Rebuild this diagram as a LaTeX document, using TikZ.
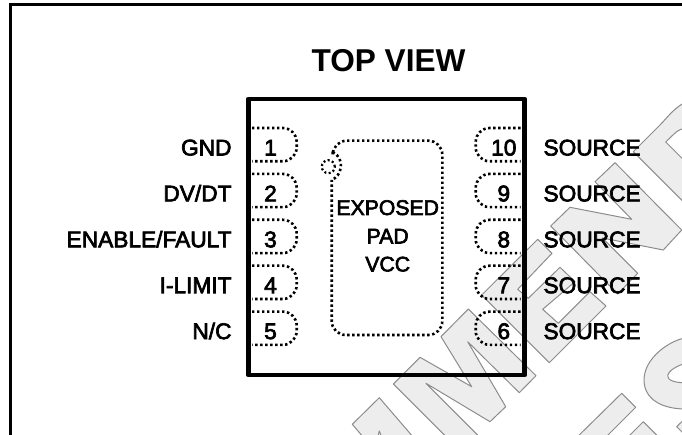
\documentclass[tikz,border=0pt]{standalone}
\usepackage{fontspec}
\setmainfont{Liberation Sans}
\newfontfamily\pinfont[FakeBold=3]{Liberation Sans}
\tikzset{
  wmark/.style={draw=black!45,fill=black!7,line width=1pt,line join=round,even odd rule},
  pinpad/.style={line width=2.6pt,dash pattern=on 2.4pt off 2.6pt,rounded corners=14pt},
  pinlabel/.style={inner sep=0,font=\pinfont\fontsize{22.7}{25}\selectfont},
  padlabel/.style={inner sep=0,anchor=base,font=\pinfont\fontsize{21.2}{25}\selectfont},
}
\begin{document}
\begin{tikzpicture}[x=1pt,y=-1pt]
   \useasboundingbox (0,0) rectangle (682,435);
   % watermark letters
   \begin{scope}
   \clip (0,0) rectangle (682,435);
   \filldraw[wmark] (379.3,397.7) -- (352.3,424.3) -- (370,445) -- (376,445) -- (379.3,431) -- (385,445) -- (420,445) -- cycle;
   \filldraw[wmark] (393.3,384) -- (420,357.3) -- (471.7,386.7) -- (441,336.7) -- (468.3,309) -- (536,375.7) -- (519.3,392.7) -- (467.7,341.7) -- (505.7,406.7) -- (490,421.7) -- (426,383.3) -- (487.7,445) -- (454.3,445) -- cycle;
   \filldraw[wmark] (537.7,239.3) -- (552,253.3) -- (517.7,289.3) -- (528.3,298.3) -- (560,267.3) -- (575,281.7) -- (542.7,309.3) -- (558.3,323.3) -- (590,291.7) -- (606,306) -- (549.3,362.7) -- (481.7,295) -- cycle;
   \filldraw[wmark] (550.7,226) -- (570,207.3) -- (631.7,219.3) -- (595,181.7) -- (615,162.7) -- (681.7,230) -- (663.3,250) -- (602.4,238) -- (637.7,273.3) -- (617.7,294) -- cycle;
   \filldraw[wmark] (633.3,151.7) -- (660,125) .. controls (668,117) and (675,106) .. (690,100) -- (700,100) -- (700,218.4) -- cycle
      (665.7,142) -- (674,134) .. controls (678,130) and (682,128) .. (690,128) -- (700,128) -- (700,176.3) -- cycle;
   \filldraw[wmark] (690,337) .. controls (670,339) and (644,358) .. (644,380) .. controls (644,398) and (660,410) .. (690,409) -- (700,409) -- (700,337) -- cycle
      (690,362) .. controls (680,364) and (666,371) .. (668,377) .. controls (669,382) and (680,383) .. (690,383) -- cycle;
   \filldraw[wmark] (621.7,393.3) -- (635.7,407.3) -- (598,445) -- (569,445) -- cycle;
   \filldraw[wmark] (643.3,421.7) -- (666.7,445) -- (620,445) -- cycle;
   \filldraw[wmark] (700,403.7) -- (676.7,426.7) -- (700,450) -- cycle;
   \end{scope}
   % frame
   \draw[line width=2.8pt] (10.7,435) -- (10.7,4.3) -- (682,4.3);
   \node[anchor=base,inner sep=0,font=\bfseries\fontsize{31.6}{33}\selectfont] (title) at (388.5,71.5) {TOP VIEW};
   % package
   \draw[line width=4.8pt,line join=round] (248.3,99) rectangle (524.7,375);
   % left pins
   \foreach \n/\lab in {1/GND,2/DV\slash DT,3/ENABLE\slash FAULT,4/I-LIMIT,5/N\slash C}{
     \pgfmathsetmacro\ty{128+(\n-1)*45.9}
     \draw[pinpad] (252,\ty) -- (296.7,\ty) -- (296.7,\ty+33.3) -- (252,\ty+33.3);
     \node[pinlabel,anchor=base] (num\n) at (270.5,\ty+27.5) {\n};
     \node[pinlabel,anchor=base east] (lab\n) at (231.7,\ty+27.5) {\lab};
   }
   % right pins
   \foreach \n/\k in {10/0,9/1,8/2,7/3,6/4}{
     \pgfmathsetmacro\ty{128+\k*45.9}
     \draw[pinpad] (520.5,\ty) -- (475.7,\ty) -- (475.7,\ty+33.3) -- (520.5,\ty+33.3);
     \node[pinlabel,anchor=base] (num\n) at (503.8,\ty+27.5) {\n};
     \node[pinlabel,anchor=base west] (lab\n) at (543.3,\ty+27.5) {SOURCE};
   }
   % exposed pad
   \draw[line width=2.6pt,dash pattern=on 2.4pt off 2.6pt,rounded corners=14pt] (332.7,152) -- (332.7,140.7) -- (442.3,140.7) -- (442.3,335) -- (331.7,335) -- (331.7,180);
   \draw[line width=2.6pt,dash pattern=on 2.4pt off 2.6pt] (332.7,152) .. controls (339,155) and (342,162) .. (340.7,168) .. controls (340,174) and (336,178) .. (331.7,180);
   \node[circle,draw,line width=2.2pt,dash pattern=on 2pt off 2.4pt,minimum size=13pt,inner sep=0] (notch) at (328.3,166.7) {};
   \node[padlabel] (pad1) at (387.7,215) {EXPOSED};
   \node[padlabel] (pad2) at (387.7,243.5) {PAD};
   \node[padlabel] (pad3) at (387.7,271.5) {VCC};
\end{tikzpicture}
\end{document}
